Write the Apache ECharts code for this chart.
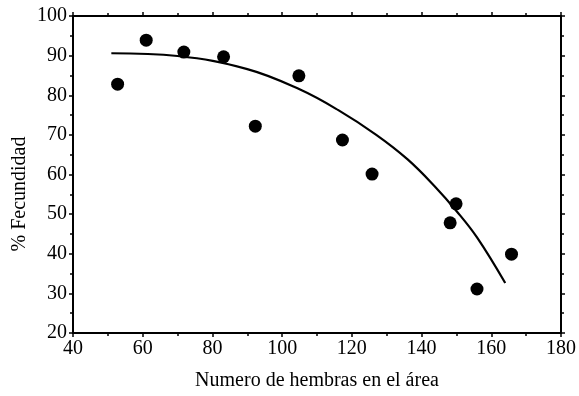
<!DOCTYPE html>
<html>
<head>
<meta charset="utf-8">
<script src="https://cdn.jsdelivr.net/npm/echarts@6/dist/echarts.min.js"></script>
<style>html,body{margin:0;padding:0;background:#fff}#c{width:579px;height:396px}</style>
</head>
<body>
<div id="c"></div>
<script>
// Observed points
const hembras = [52.8, 61.0, 71.8, 83.2, 92.3, 104.8, 117.3, 125.8, 148.2, 149.9, 155.9, 165.8];
const fecundidad = [82.8, 93.9, 90.9, 89.7, 72.2, 84.9, 68.7, 60.1, 47.8, 52.6, 31.1, 39.9];
// Fitted curve
const curveX = [51, 70, 90, 105, 116, 127, 136, 144, 150, 156, 164];
const curveY = [90.6, 89.9, 86.6, 81.5, 76.3, 70.0, 63.8, 56.8, 50.8, 44.0, 32.6];
const xTicks = [40, 60, 80, 100, 120, 140, 160, 180];
const yTicks = [20, 30, 40, 50, 60, 70, 80, 90, 100];
const xTitle = 'Numero de hembras en el área';
const yTitle = '% Fecundidad';

const font = 'Liberation Serif';
const chart = echarts.init(document.getElementById('c'), null, {renderer: 'canvas'});
const lineStyle = {color: '#000', width: 2};
const baseX = {
  type: 'value', min: xTicks[0], max: xTicks[xTicks.length - 1], interval: 20,
  axisLine: {show: true, onZero: false, lineStyle},
  axisTick: {show: true, inside: false, length: 4, lineStyle: {color: '#000', width: 1.5}},
  minorTick: {show: true, splitNumber: 2, length: 3, lineStyle: {color: '#000', width: 1.5}},
  splitLine: {show: false}
};
const baseY = {
  type: 'value', min: yTicks[0], max: yTicks[yTicks.length - 1], interval: 10,
  axisLine: {show: true, onZero: false, lineStyle},
  axisTick: {show: true, inside: false, length: 4, lineStyle: {color: '#000', width: 1.5}},
  minorTick: {show: true, splitNumber: 2, length: 3, lineStyle: {color: '#000', width: 1.5}},
  splitLine: {show: false}
};
chart.setOption({
  animation: false,
  backgroundColor: '#fff',
  grid: {left: 73, right: 13, top: 16, bottom: 62},
  graphic: [{
    type: 'text', x: 20, y: 194, rotation: Math.PI / 2,
    style: {text: yTitle, fontFamily: font, fontSize: 20, fill: '#000', align: 'center', verticalAlign: 'middle'}
  }],
  xAxis: [
    Object.assign({}, baseX, {
      position: 'bottom',
      name: xTitle, nameLocation: 'middle', nameGap: 38,
      nameTextStyle: {fontFamily: font, fontSize: 20, color: '#000'},
      axisLabel: {show: true, margin: 6, fontFamily: font, fontSize: 20, color: '#000'}
    }),
    Object.assign({}, baseX, {position: 'top', axisLabel: {show: false}})
  ],
  yAxis: [
    Object.assign({}, baseY, {
      position: 'left',
      axisLabel: {show: true, margin: 6, fontFamily: font, fontSize: 20, color: '#000'}
    }),
    Object.assign({}, baseY, {position: 'right', axisLabel: {show: false}})
  ],
  series: [
    {
      type: 'line', smooth: 0.4, showSymbol: false, symbol: 'none',
      lineStyle: {color: '#000', width: 2.2},
      data: curveX.map((x, i) => [x, curveY[i]]),
      z: 2
    },
    {
      type: 'scatter', symbol: 'circle', symbolSize: 13,
      itemStyle: {color: '#000', opacity: 1},
      data: hembras.map((x, i) => [x, fecundidad[i]]),
      z: 3
    }
  ]
});
</script>
</body>
</html>
